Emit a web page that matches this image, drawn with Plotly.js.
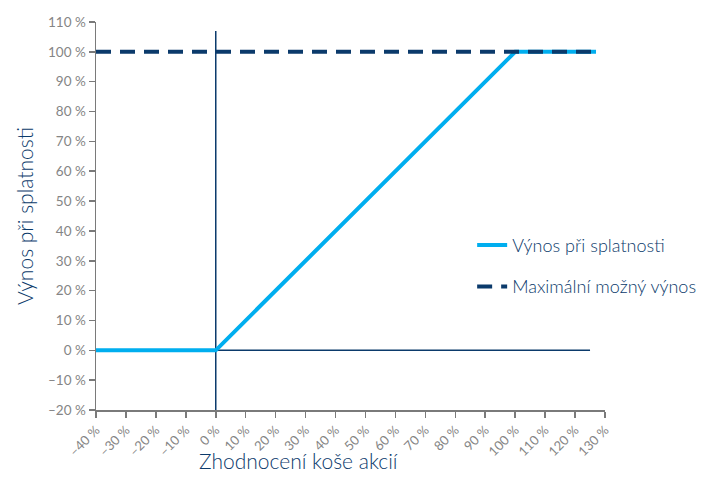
<!DOCTYPE html>
<html>
<head>
<meta charset="utf-8">
<script src="https://cdn.plot.ly/plotly-3.0.1.min.js"></script>
<style>html,body{margin:0;padding:0;background:#fff;}#chart{width:717px;height:495px;}</style>
</head>
<body>
<div id="chart"></div>
<script>
// Data
var payoffX = [-40, 0, 100, 127];
var payoffY = [0, 0, 100, 100];
var capX = [-40, 127];
var capY = [100, 100];
var zeroLineX = [0, 125];
var zeroLineY = [0, 0];
var vertLineX = [0, 0];
var vertLineY = [-20, 107];

var xTickVals = [-40,-30,-20,-10,0,10,20,30,40,50,60,70,80,90,100,110,120,130];
var xTickText = ['–40 %','–30 %','–20 %','–10 %','0 %','10 %','20 %','30 %','40 %','50 %','60 %','70 %','80 %','90 %','100 %','110 %','120 %','130 %'];
var yTickVals = [-20,-10,0,10,20,30,40,50,60,70,80,90,100,110];
var yTickText = ['–20 %','–10 %','0 %','10 %','20 %','30 %','40 %','50 %','60 %','70 %','80 %','90 %','100 %','110 %'];

var navy = '#0b3a6b';
var lightBlue = '#00aeef';
var gray = '#858585';
var fontFam = 'Lato, "Open Sans", sans-serif';

var traces = [
  {x: vertLineX, y: vertLineY, mode: 'lines', line: {color: navy, width: 1.5}, showlegend: false, hoverinfo: 'skip'},
  {x: zeroLineX, y: zeroLineY, mode: 'lines', line: {color: navy, width: 1.5}, showlegend: false, hoverinfo: 'skip'},
  {x: payoffX, y: payoffY, mode: 'lines', name: 'Výnos při splatnosti', legendgroup: 'a',
   line: {color: lightBlue, width: 4}},
  {x: capX, y: capY, mode: 'lines', name: 'Maximální možný výnos', legendgroup: 'b',
   line: {color: navy, width: 4, dash: '15px,9px'}}
];

var layout = {
  width: 717, height: 495,
  margin: {l: 96, r: 112, t: 22, b: 85},
  paper_bgcolor: '#fff', plot_bgcolor: '#fff',
  font: {family: fontFam, color: gray},
  showlegend: true,
  legend: {x: 0.739, y: 0.472, xanchor: 'left', yanchor: 'top', tracegroupgap: 15,
           font: {family: fontFam, size: 18, color: navy, weight: 300}, bgcolor: 'rgba(0,0,0,0)'},
  xaxis: {
    range: [-40, 130], tickvals: xTickVals, ticktext: xTickText, tickangle: -45,
    showgrid: false, zeroline: false, showline: true, linecolor: '#7a7a7a', linewidth: 1.5,
    ticks: 'outside', ticklen: 6, tickcolor: '#7a7a7a', tickwidth: 1.5,
    tickfont: {family: fontFam, size: 13, color: gray}
  },
  yaxis: {
    range: [-20, 110], tickvals: yTickVals, ticktext: yTickText,
    showgrid: false, zeroline: false, showline: true, linecolor: '#7a7a7a', linewidth: 1.5,
    ticks: 'outside', ticklen: 6, tickcolor: '#7a7a7a', tickwidth: 1.5,
    tickfont: {family: fontFam, size: 13.5, color: gray},
    title: {text: 'Výnos při splatnosti', font: {family: fontFam, size: 21, color: navy, weight: 300}, standoff: 8}
  },
  annotations: [
    {text: 'Zhodnocení koše akcií', xref: 'paper', yref: 'paper', x: 0.398, y: -0.13,
     xanchor: 'center', yanchor: 'middle', showarrow: false,
     font: {family: fontFam, size: 21, color: navy, weight: 300}}
  ]
};

Plotly.newPlot('chart', traces, layout, {displayModeBar: false, staticPlot: true});
</script>
</body>
</html>
